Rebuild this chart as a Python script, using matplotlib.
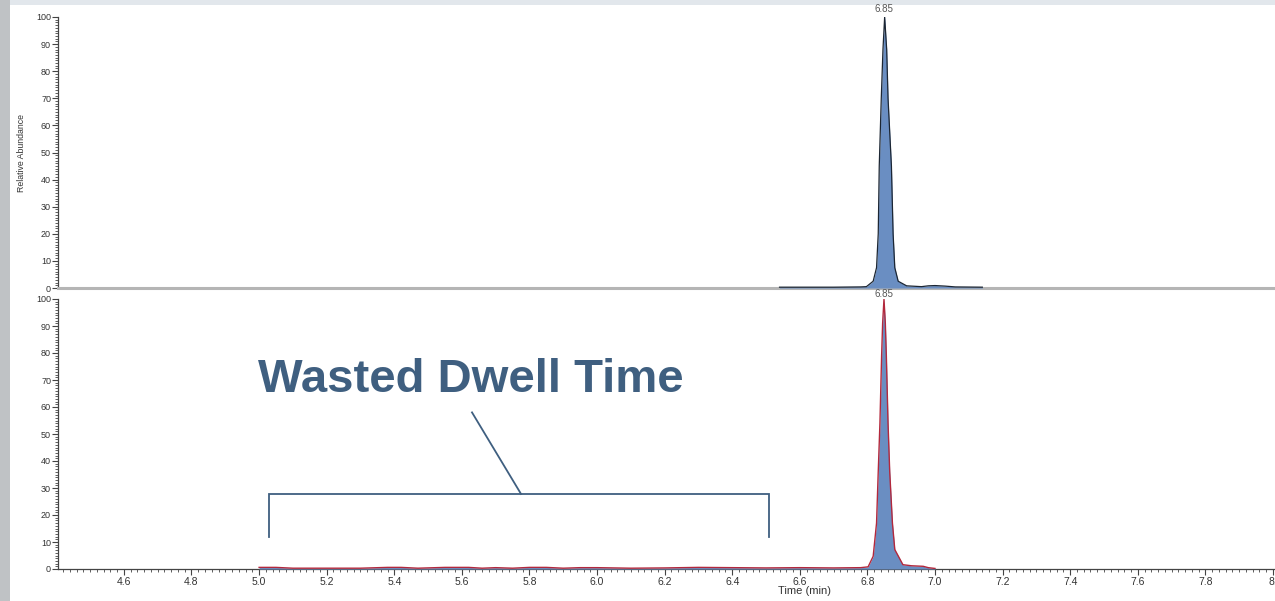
import numpy as np
import matplotlib.pyplot as plt
from matplotlib.ticker import MultipleLocator
from matplotlib.patches import Rectangle

plt.rcParams['font.family'] = ['Liberation Sans', 'DejaVu Sans']

# --- Data ---
# top trace (black outline)
top_time = [6.54, 6.70, 6.78, 6.797, 6.817, 6.827, 6.832, 6.835, 6.841, 6.846,
            6.851, 6.857, 6.861, 6.871, 6.876, 6.881, 6.891, 6.916, 6.96, 6.98,
            7.00, 7.03, 7.06, 7.14]
top_int = [0.3, 0.3, 0.4, 0.5, 2.5, 7.5, 20, 45, 70, 88,
           100, 88, 70, 45, 20, 7.5, 2.5, 0.8, 0.5, 0.8,
           0.9, 0.7, 0.4, 0.3]

# bottom trace (red outline)
bot_time = [5.00, 5.05, 5.10, 5.20, 5.30, 5.38, 5.42, 5.47, 5.55, 5.62,
            5.66, 5.70, 5.75, 5.80, 5.85, 5.90, 5.95, 6.00, 6.10, 6.20,
            6.30, 6.40, 6.50, 6.60, 6.70, 6.78, 6.802, 6.817, 6.827, 6.832,
            6.837, 6.842, 6.845, 6.849, 6.853, 6.856, 6.861, 6.866, 6.874, 6.881,
            6.905, 6.93, 6.965, 6.98, 7.00]
bot_int = [0.6, 0.6, 0.3, 0.3, 0.3, 0.6, 0.6, 0.3, 0.6, 0.6,
           0.3, 0.5, 0.3, 0.6, 0.6, 0.3, 0.5, 0.5, 0.3, 0.4,
           0.6, 0.5, 0.4, 0.5, 0.4, 0.5, 0.8, 4.7, 17, 36,
           54, 79, 91, 100, 91, 79, 54, 36, 17, 7.2,
           1.6, 1.2, 1.0, 0.5, 0.2]

peak_label = "6.85"
peak_rt = 6.85
x_ticks = [4.6, 4.8, 5.0, 5.2, 5.4, 5.6, 5.8, 6.0, 6.2, 6.4, 6.6, 6.8, 7.0, 7.2, 7.4, 7.6, 7.8, 8.0]
x_labels = ["4.6", "4.8", "5.0", "5.2", "5.4", "5.6", "5.8", "6.0", "6.2", "6.4",
            "6.6", "6.8", "7.0", "7.2", "7.4", "7.6", "7.8", "8."]

# bracket / callout (time, abundance on bottom panel)
bracket_x = [5.03, 6.51]
bracket_y = [27.8, 11.9]
pointer = [(5.63, 58.0), (5.775, 27.8)]

FILL = '#6a8ec2'
NAVY = '#3f5f80'
TXT = '#333333'
XLIM = (4.405, 8.006)

fig = plt.figure(figsize=(12.75, 6.01), dpi=100, facecolor='#bfc2c5')
# white slide panel behind the axes
fig.patches.append(Rectangle((10 / 1275, 0), 1, 596 / 601, transform=fig.transFigure,
                             facecolor='white', edgecolor='none', zorder=-10))
fig.patches.append(Rectangle((10 / 1275, 596 / 601), 1, 5 / 601, transform=fig.transFigure,
                             facecolor='#e2e7ec', edgecolor='none', zorder=-10))

left = 58 / 1275
width = 1 - left
ax1 = fig.add_axes([left, (601 - 288) / 601, width, 271 / 601])
ax2 = fig.add_axes([left, (601 - 569) / 601, width, 270 / 601])

for ax in (ax1, ax2):
    ax.set_facecolor('none')
    ax.set_xlim(*XLIM)
    ax.set_ylim(0, 100)
    ax.spines['top'].set_visible(False)
    ax.spines['right'].set_visible(False)
    ax.spines['left'].set_color('#444444')
    ax.spines['left'].set_linewidth(0.9)
    ax.yaxis.set_major_locator(MultipleLocator(10))
    ax.yaxis.set_minor_locator(MultipleLocator(1))
    ax.tick_params(axis='y', which='major', length=4, width=0.8, color='#444444',
                   labelsize=6.5, labelcolor=TXT, pad=1)
    ax.tick_params(axis='y', which='minor', length=2, width=0.6, color='#444444')

# top panel
ax1.fill_between(top_time, top_int, color=FILL, linewidth=0, zorder=3)
ax1.plot(top_time, top_int, color='#1c2633', linewidth=0.9, zorder=4)
ax1.spines['bottom'].set_color('#b5b5b5')
ax1.spines['bottom'].set_linewidth(2.2)
ax1.set_xticks([])
ax1.set_ylabel("Relative Abundance", fontsize=6.3, color=TXT)
ax1.yaxis.set_label_coords(-32 / 1217, 0.5)
ax1.annotate(peak_label, (peak_rt, 100), xytext=(0, 2), textcoords='offset points',
             ha='center', va='bottom', fontsize=7, color='#555555', annotation_clip=False)

# bottom panel
ax2.fill_between(bot_time, bot_int, color=FILL, linewidth=0, zorder=3)
ax2.plot(bot_time, bot_int, color='#b3283c', linewidth=1.0, zorder=4)
ax2.spines['bottom'].set_color('#444444')
ax2.spines['bottom'].set_linewidth(0.9)
ax2.set_xticks(x_ticks)
ax2.set_xticklabels(x_labels)
ax2.xaxis.set_minor_locator(MultipleLocator(0.02))
ax2.tick_params(axis='x', which='major', length=4, width=0.8, color='#444444',
                labelsize=7.5, labelcolor=TXT, pad=2)
ax2.tick_params(axis='x', which='minor', length=2, width=0.6, color='#444444')
ax2.set_xlabel("Time (min)", fontsize=8, color=TXT)
ax2.xaxis.set_label_coords((805 - 58) / 1217, -17 / 270)
ax2.annotate(peak_label, (peak_rt, 100), xytext=(0, 0), textcoords='offset points',
             ha='center', va='bottom', fontsize=7, color='#555555', annotation_clip=False)

# "Wasted Dwell Time" callout
ax2.plot([bracket_x[0], bracket_x[0], bracket_x[1], bracket_x[1]],
         [bracket_y[1], bracket_y[0], bracket_y[0], bracket_y[1]],
         color=NAVY, linewidth=1.3, solid_joinstyle='miter')
ax2.plot([pointer[0][0], pointer[1][0]], [pointer[0][1], pointer[1][1]],
         color=NAVY, linewidth=1.3)
ax2.text(5.627, 65.6, "Wasted Dwell Time", ha='center', va='baseline',
         fontsize=34, fontweight='bold', color=NAVY)

fig.savefig("out.png", dpi=100, facecolor=fig.get_facecolor())
